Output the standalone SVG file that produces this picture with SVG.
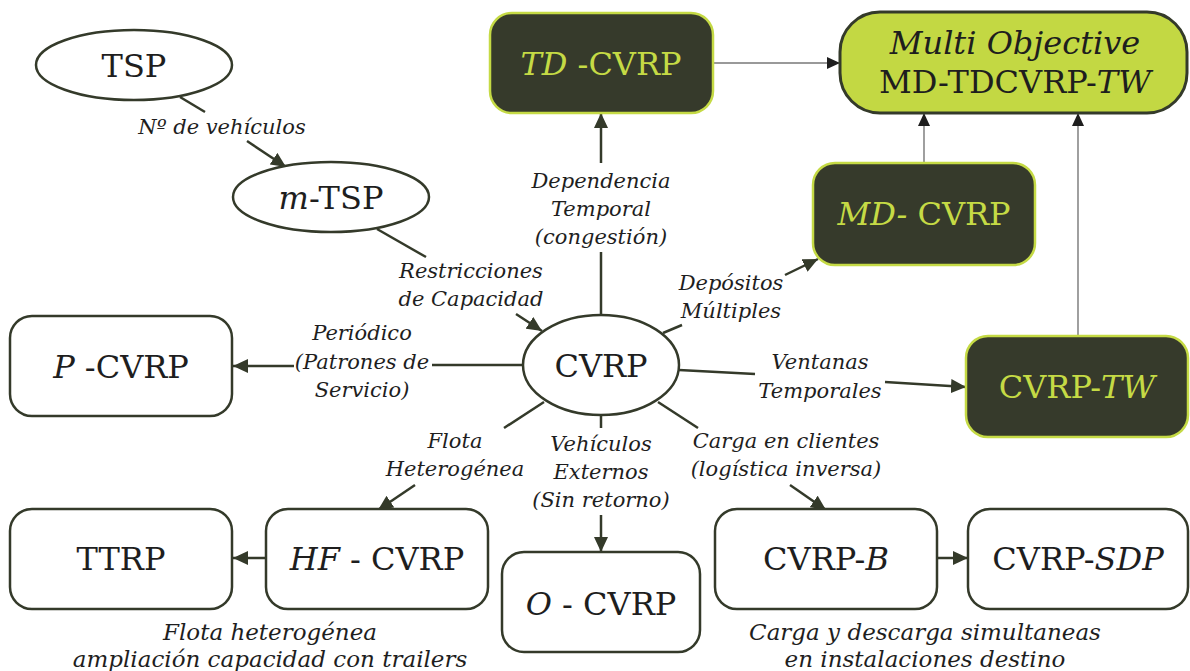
<svg xmlns="http://www.w3.org/2000/svg" width="1190" height="671" viewBox="0 0 1190 671">
  <style>
    .bg { fill: #ffffff; }
    .plain { fill: #ffffff; stroke: #343a2a; stroke-width: 2.5; }
    .dark { fill: #363a2b; stroke: #c5da45; stroke-width: 2.5; }
    .goal { fill: #c3d843; stroke: #343a2a; stroke-width: 3; }
    .node { font-family: "DejaVu Serif", "Liberation Serif", serif; font-size: 32px; fill: #1e1e1e; text-anchor: middle; }
    .lime { fill: #c5da45; }
    .lbl { font-family: "DejaVu Serif", "Liberation Serif", serif; font-size: 21px; font-style: italic; fill: #1e1e1e; text-anchor: middle; }
    .cap { font-family: "DejaVu Serif", "Liberation Serif", serif; font-size: 23px; font-style: italic; fill: #1e1e1e; text-anchor: middle; }
    .it { font-style: italic; }
    .edge { fill: none; stroke: #343a2a; stroke-width: 2.5; }
    .thin { fill: none; stroke: #777777; stroke-width: 1.4; }
  </style>
  <defs>
    <marker id="arrow" markerUnits="userSpaceOnUse" markerWidth="16" markerHeight="14" refX="15" refY="7" orient="auto">
      <path d="M0,0 L15,7 L0,14 z" fill="#343a2a"/>
    </marker>
    <marker id="arrowThin" markerUnits="userSpaceOnUse" markerWidth="14" markerHeight="12" refX="13" refY="6" orient="auto">
      <path d="M0,0 L13,6 L0,12 z" fill="#1e1e1e"/>
    </marker>
  </defs>

  <rect class="bg" x="0" y="0" width="1190" height="671"/>

  <!-- connectors -->
  <g id="connectors">
    <!-- TSP to m-TSP -->
    <line class="edge" x1="180" y1="97" x2="205" y2="112"/>
    <line class="edge" x1="247" y1="141" x2="286" y2="167" marker-end="url(#arrow)"/>
    <!-- m-TSP to CVRP -->
    <line class="edge" x1="377" y1="229" x2="426" y2="257"/>
    <line class="edge" x1="516" y1="314" x2="542" y2="331" marker-end="url(#arrow)"/>
    <!-- CVRP up to TD-CVRP -->
    <line class="edge" x1="601" y1="315" x2="601" y2="252"/>
    <line class="edge" x1="601" y1="163" x2="601" y2="113" marker-end="url(#arrow)"/>
    <!-- CVRP to MD-CVRP -->
    <line class="edge" x1="663" y1="333" x2="682" y2="325"/>
    <line class="edge" x1="785" y1="275" x2="818" y2="259" marker-end="url(#arrow)"/>
    <!-- CVRP to CVRP-TW -->
    <line class="edge" x1="679" y1="370" x2="755" y2="374"/>
    <line class="edge" x1="885" y1="382" x2="966" y2="387" marker-end="url(#arrow)"/>
    <!-- CVRP to P-CVRP -->
    <line class="edge" x1="523" y1="365" x2="432" y2="365"/>
    <line class="edge" x1="294" y1="366" x2="233" y2="366" marker-end="url(#arrow)"/>
    <!-- CVRP to HF-CVRP -->
    <line class="edge" x1="544" y1="402" x2="504" y2="428"/>
    <line class="edge" x1="415" y1="485" x2="378" y2="510" marker-end="url(#arrow)"/>
    <!-- CVRP to O-CVRP -->
    <line class="edge" x1="601" y1="415" x2="601" y2="428"/>
    <line class="edge" x1="601" y1="515" x2="601" y2="552" marker-end="url(#arrow)"/>
    <!-- CVRP to CVRP-B -->
    <line class="edge" x1="658" y1="402" x2="698" y2="428"/>
    <line class="edge" x1="790" y1="485" x2="826" y2="510" marker-end="url(#arrow)"/>
    <!-- CVRP-B to CVRP-SDP -->
    <line class="edge" x1="937" y1="558" x2="968" y2="558" marker-end="url(#arrow)"/>
    <!-- HF-CVRP to TTRP -->
    <line class="edge" x1="266" y1="558" x2="233" y2="558" marker-end="url(#arrow)"/>
    <!-- into the multi-objective model -->
    <line class="thin" x1="713" y1="63" x2="840" y2="63" marker-end="url(#arrowThin)"/>
    <line class="thin" x1="924" y1="163" x2="924" y2="113" marker-end="url(#arrowThin)"/>
    <line class="thin" x1="1078" y1="336" x2="1078" y2="113" marker-end="url(#arrowThin)"/>
  </g>

  <!-- edge labels -->
  <g id="edge-labels">
    <text class="lbl" x="222" y="134">Nº de vehículos</text>
    <text class="lbl" x="471" y="278">Restricciones</text>
    <text class="lbl" x="471" y="306">de Capacidad</text>
    <text class="lbl" x="601" y="188">Dependencia</text>
    <text class="lbl" x="601" y="216">Temporal</text>
    <text class="lbl" x="601" y="244">(congestión)</text>
    <text class="lbl" x="731" y="290">Depósitos</text>
    <text class="lbl" x="731" y="318">Múltiples</text>
    <text class="lbl" x="362" y="340">Periódico</text>
    <text class="lbl" x="362" y="369">(Patrones de</text>
    <text class="lbl" x="362" y="397">Servicio)</text>
    <text class="lbl" x="820" y="369">Ventanas</text>
    <text class="lbl" x="820" y="398">Temporales</text>
    <text class="lbl" x="455" y="448">Flota</text>
    <text class="lbl" x="455" y="476">Heterogénea</text>
    <text class="lbl" x="601" y="451">Vehículos</text>
    <text class="lbl" x="601" y="479">Externos</text>
    <text class="lbl" x="601" y="507">(Sin retorno)</text>
    <text class="lbl" x="786" y="448">Carga en clientes</text>
    <text class="lbl" x="786" y="476">(logística inversa)</text>
  </g>

  <!-- nodes -->
  <g id="tsp">
    <ellipse class="plain" cx="134" cy="65" rx="98" ry="35"/>
    <text class="node" x="134" y="77">TSP</text>
  </g>
  <g id="mtsp">
    <ellipse class="plain" cx="331" cy="197" rx="98" ry="35"/>
    <text class="node" x="331" y="209"><tspan class="it">m</tspan>-TSP</text>
  </g>
  <g id="cvrp">
    <ellipse class="plain" cx="601" cy="365" rx="78" ry="50"/>
    <text class="node" x="601" y="377">CVRP</text>
  </g>
  <g id="td-cvrp">
    <rect class="dark" x="490" y="13" width="223" height="100" rx="22"/>
    <text class="node lime" x="601" y="75"><tspan class="it">TD</tspan> -CVRP</text>
  </g>
  <g id="multi-objective">
    <rect class="goal" x="840" y="12" width="347" height="101" rx="40"/>
    <text class="node" x="1015" y="54"><tspan class="it">Multi Objective</tspan></text>
    <text class="node" x="1015" y="93">MD-TDCVRP-<tspan class="it">TW</tspan></text>
  </g>
  <g id="md-cvrp">
    <rect class="dark" x="813" y="163" width="222" height="102" rx="22"/>
    <text class="node lime" x="924" y="225"><tspan class="it">MD-</tspan> CVRP</text>
  </g>
  <g id="cvrp-tw">
    <rect class="dark" x="966" y="336" width="222" height="101" rx="22"/>
    <text class="node lime" x="1077" y="398">CVRP-<tspan class="it">TW</tspan></text>
  </g>
  <g id="p-cvrp">
    <rect class="plain" x="10" y="316" width="222" height="100" rx="22"/>
    <text class="node" x="121" y="378"><tspan class="it">P</tspan> -CVRP</text>
  </g>
  <g id="ttrp">
    <rect class="plain" x="10" y="509" width="222" height="100" rx="22"/>
    <text class="node" x="121" y="570">TTRP</text>
  </g>
  <g id="hf-cvrp">
    <rect class="plain" x="266" y="509" width="222" height="100" rx="22"/>
    <text class="node" x="377" y="570"><tspan class="it">HF</tspan> - CVRP</text>
  </g>
  <g id="o-cvrp">
    <rect class="plain" x="502" y="552" width="198" height="100" rx="22"/>
    <text class="node" x="601" y="615"><tspan class="it">O</tspan> - CVRP</text>
  </g>
  <g id="cvrp-b">
    <rect class="plain" x="715" y="509" width="222" height="100" rx="22"/>
    <text class="node" x="826" y="570">CVRP-<tspan class="it">B</tspan></text>
  </g>
  <g id="cvrp-sdp">
    <rect class="plain" x="968" y="509" width="220" height="100" rx="22"/>
    <text class="node" x="1078" y="570">CVRP-<tspan class="it">SDP</tspan></text>
  </g>

  <!-- group captions -->
  <g id="captions">
    <text class="cap" x="270" y="640">Flota heterogénea</text>
    <text class="cap" x="270" y="667">ampliación capacidad con trailers</text>
    <text class="cap" x="925" y="640">Carga y descarga simultaneas</text>
    <text class="cap" x="925" y="667">en instalaciones destino</text>
  </g>
</svg>
